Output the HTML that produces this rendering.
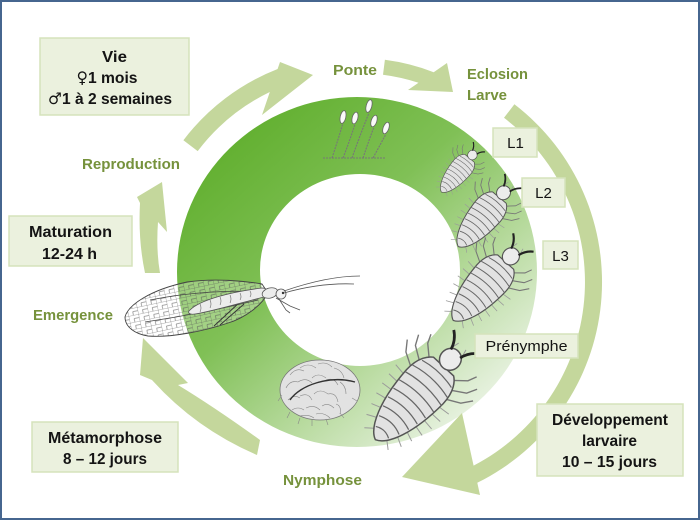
<!DOCTYPE html>
<html><head><meta charset="utf-8"><style>
html,body{margin:0;padding:0;background:#fff;}
svg{display:block;}
</style></head><body>
<svg width="700" height="520" viewBox="0 0 700 520" xmlns="http://www.w3.org/2000/svg">
<defs>
<linearGradient id="rg" x1="0.12" y1="0.08" x2="0.88" y2="0.92">
<stop offset="0" stop-color="#5fae2c"/>
<stop offset="0.4" stop-color="#80c056"/>
<stop offset="0.7" stop-color="#b9dba0"/>
<stop offset="1" stop-color="#f0f6ec"/>
</linearGradient>
<pattern id="mesh" width="10" height="7" patternUnits="userSpaceOnUse" patternTransform="rotate(-12)">
<path d="M0,0H10M0,0V7M5,3.5H10M5,3.5V7" stroke="#555" stroke-width="0.5" fill="none"/>
</pattern>
<clipPath id="wingclip"><path d="M125,317 C128,305 150,290 187,282 C215,278 245,281 262,284 L268,293 C262,305 245,318 228,323 C205,331 170,338 148,336 C135,334 125,327 125,317 Z"/></clipPath>
<g id="larva" fill="none">
  <path d="M12,-19 L18,-30 L26,-36 M20,-17 L27,-28 L35,-32 M27,-13 L35,-22 L42,-25 M12,19 L18,30 L26,36 M20,17 L27,28 L35,32 M27,13 L35,22 L42,25" stroke="#777" stroke-width="1.1"/>
  <path d="M-44,-7 L-49,-13 M-36,-11 L-40,-19 M-28,-14 L-31,-22 M-20,-16 L-22,-25 M-12,-18 L-13,-27 M-4,-19 L-4,-28 M4,-20 L5,-29 M-44,7 L-49,13 M-36,11 L-40,19 M-28,14 L-31,22 M-20,16 L-22,25 M-12,18 L-13,27 M-4,19 L-4,28 M4,20 L5,29 M44,-6 L52,-4 M44,6 L52,4" stroke="#9a9a9a" stroke-width="0.8"/>
  <path d="M-50,0 C-46,-10 -25,-19 8,-20 C22,-20 28,-14 30,-11 L30,11 C28,14 22,20 8,20 C-25,19 -46,10 -50,0 Z" fill="#e2e2e2" stroke="#555" stroke-width="1.2"/>
  <path d="M-42,-7 Q-38,0 -42,7 M-34,-11 Q-29,0 -34,11 M-26,-14 Q-21,0 -26,14 M-18,-16 Q-13,0 -18,16 M-10,-17.5 Q-5,0 -10,17.5 M-2,-19 Q3,0 -2,19 M6,-20 Q11,0 6,20 M14,-19 Q19,0 14,19 M22,-16 Q26,0 22,16" stroke="#666" stroke-width="1"/>
  <ellipse cx="38" cy="0" rx="9" ry="8.5" fill="#ececec" stroke="#555" stroke-width="1.2"/>
  <path d="M44,-5 Q52,-7 57,-14 M44,5 Q52,7 57,14" stroke="#222" stroke-width="2.2"/>
</g>
</defs>

<rect x="1" y="1" width="698" height="518" fill="#fff" stroke="#46668f" stroke-width="2"/>

<!-- ring -->
<path fill="url(#rg)" fill-rule="evenodd" d="M177,272 A180,175 0 1,0 537,272 A180,175 0 1,0 177,272 Z M260,270 A100,96 0 1,1 460,270 A100,96 0 1,1 260,270 Z"/>

<!-- arrows -->
<g fill="#c4d79c">
<path d="M183.4,140.2 A218,218 0 0,1 277.6,69 L280,62 L313,75 L262,115 L269.8,92 A200,200 0 0,0 197.7,151.1 Z"/>
<path d="M145,273 Q138,240 140,203 L137,197 L162,182 L167,232 L158,222 Q156,250 160,273 Z"/>
<path d="M384.9,59.8 A214,214 0 0,1 433.7,72.2 L447,63 L453,92 L408,90 L418.5,82.7 A199,199 0 0,0 383,74.7 Z"/>
<path d="M514.4,104.3 A224,224 0 0,1 477.3,482.8 L480,495 L402,477 L462,413 L473.6,465.6 A207,207 0 0,0 504,117.8 Z"/>
<path d="M257,455 Q195.5,428.5 152,380 L140,375 L143,338 L188,383 L178,385 Q215,407.5 260,440 Z"/>
</g>

<!-- eggs -->
<g fill="none" stroke="#777" stroke-width="1.1" stroke-dasharray="2,1">
<path d="M323,158 L386,158"/>
<path d="M332,158 Q338,140 343,123"/>
<path d="M343,158 Q350,140 355,124"/>
<path d="M352,158 Q360,135 369,113"/>
<path d="M363,158 Q369,140 374,127"/>
<path d="M373,158 Q380,145 386,134"/>
</g>
<g fill="#fafafa" stroke="#666" stroke-width="0.8">
<ellipse cx="343" cy="117" rx="2.8" ry="6.5" transform="rotate(12 343 117)"/>
<ellipse cx="355" cy="118" rx="2.8" ry="6" transform="rotate(15 355 118)"/>
<ellipse cx="369" cy="106" rx="2.8" ry="6.5" transform="rotate(15 369 106)"/>
<ellipse cx="374" cy="121" rx="2.8" ry="6" transform="rotate(18 374 121)"/>
<ellipse cx="386" cy="128" rx="2.8" ry="6" transform="rotate(20 386 128)"/>
</g>

<!-- larvae -->
<use href="#larva" transform="translate(459,171) rotate(-50) scale(0.55)"/>
<use href="#larva" transform="translate(484,216) rotate(-50) scale(0.8)"/>
<use href="#larva" transform="translate(486,284) rotate(-48) scale(0.98)"/>
<use href="#larva" transform="translate(418,394) rotate(-47) scale(1.25)"/>

<!-- cocoon -->
<g>
<ellipse cx="320" cy="390" rx="40" ry="30" fill="#e2e2e2" stroke="#777" stroke-width="0.8"/>
<g fill="none" stroke="#888" stroke-width="0.6">
<path d="M290,375 q6,-8 14,-4 M300,368 q8,-6 16,0 M318,364 q8,-3 14,3 M334,368 q8,2 10,10 M286,388 q4,-8 12,-6 M298,382 q8,-5 14,1 M312,378 q6,-6 14,0 M326,380 q8,-3 12,5 M340,382 q6,4 6,12 M288,400 q6,-6 12,-2 M300,396 q8,-4 12,4 M314,394 q6,-6 14,0 M328,394 q8,-2 10,8 M292,410 q6,-4 12,0 M306,408 q8,-4 14,2 M322,406 q6,-4 12,2 M336,404 q6,2 4,10 M300,416 q8,-2 14,2 M316,414 q8,-2 14,4"/>
<path d="M282,395 l-4,6 M290,412 l-3,6 M300,418 l-2,6 M312,420 l0,6 M326,419 l2,6 M340,413 l4,5 M352,398 l5,3"/>
</g>
<path d="M290,400 C300,385 330,375 355,382" fill="none" stroke="#333" stroke-width="1.4"/>
</g>

<!-- adult lacewing -->
<g>
<path d="M125,317 C128,305 150,290 187,282 C215,278 245,281 262,284 L268,293 C262,305 245,318 228,323 C205,331 170,338 148,336 C135,334 125,327 125,317 Z" fill="#ffffff" fill-opacity="0.3"/>
<rect x="120" y="270" width="160" height="75" fill="url(#mesh)" clip-path="url(#wingclip)"/>
<path d="M125,317 C128,305 150,290 187,282 C215,278 245,281 262,284 L268,293 C262,305 245,318 228,323 C205,331 170,338 148,336 C135,334 125,327 125,317 Z" fill="none" stroke="#444" stroke-width="0.9"/>
<path d="M150,300 C190,292 230,290 262,292 M145,322 C185,316 225,308 258,300" fill="none" stroke="#444" stroke-width="0.7"/>
<path d="M214,326 L240,302 M220,325 L244,304" stroke="#333" stroke-width="0.9"/>
<path d="M190,310 C200,300 230,292 262,288 C268,288 270,294 264,297 C240,303 210,312 195,314 C189,315 187,312 190,310 Z" fill="#ececec" stroke="#555" stroke-width="0.8"/>
<path d="M200,304 q2,4 0,8 M210,300 q2,4 0,8 M220,297 q2,4 0,8 M230,295 q2,4 0,8 M240,293 q2,4 0,7 M250,291 q2,3 0,6" fill="none" stroke="#666" stroke-width="0.6"/>
<ellipse cx="270" cy="293" rx="8" ry="5" transform="rotate(-15 270 293)" fill="#ececec" stroke="#555" stroke-width="0.8"/>
<circle cx="281" cy="294" r="5" fill="#f2f2f2" stroke="#555" stroke-width="0.8"/>
<circle cx="283" cy="293" r="1.2" fill="#333"/>
<path d="M284,291 C310,282 335,276 360,276 M284,293 C305,287 330,283 354,284" fill="none" stroke="#555" stroke-width="0.8"/>
<path d="M276,298 L290,306 L300,310 M279,299 L286,310 L290,313" fill="none" stroke="#555" stroke-width="0.8"/>
</g>

<!-- boxes -->
<g fill="#ebf1de" stroke="#d5e3bb" stroke-width="1.5">
<rect x="40" y="38" width="149" height="77"/>
<rect x="9" y="216" width="123" height="50"/>
<rect x="32" y="422" width="146" height="50"/>
<rect x="537" y="404" width="146" height="72"/>
<rect x="475" y="334" width="103" height="24"/>
<rect x="493" y="128" width="44" height="29"/>
<rect x="522" y="178" width="43" height="29"/>
<rect x="543" y="241" width="35" height="28"/>
</g>

<!-- box text -->
<g font-family="'Liberation Sans','DejaVu Sans',sans-serif" font-weight="bold" font-size="16" fill="#141414" text-anchor="middle">
<text x="114.5" y="62" textLength="25" lengthAdjust="spacingAndGlyphs">Vie</text>
<text x="107" y="83" textLength="61" lengthAdjust="spacingAndGlyphs"><tspan font-weight="normal" font-family="'DejaVu Sans',sans-serif">♀</tspan>1 mois</text>
<text x="110" y="104" textLength="124" lengthAdjust="spacingAndGlyphs"><tspan font-weight="normal" font-family="'DejaVu Sans',sans-serif">♂</tspan>1 à 2 semaines</text>
<text x="70.5" y="237" textLength="83" lengthAdjust="spacingAndGlyphs">Maturation</text>
<text x="69.5" y="259" textLength="55" lengthAdjust="spacingAndGlyphs">12-24 h</text>
<text x="105" y="443" textLength="114" lengthAdjust="spacingAndGlyphs">Métamorphose</text>
<text x="105" y="464" textLength="84" lengthAdjust="spacingAndGlyphs">8 – 12 jours</text>
<text x="610" y="425" textLength="116" lengthAdjust="spacingAndGlyphs">Développement</text>
<text x="609.5" y="446" textLength="55" lengthAdjust="spacingAndGlyphs">larvaire</text>
<text x="609.5" y="467" textLength="95" lengthAdjust="spacingAndGlyphs">10 – 15 jours</text>
</g>
<g font-family="'Liberation Sans','DejaVu Sans',sans-serif" font-size="15" fill="#141414" text-anchor="middle">
<text x="526.5" y="351" textLength="82" lengthAdjust="spacingAndGlyphs">Prénymphe</text>
<text x="515.5" y="148">L1</text>
<text x="543.5" y="198">L2</text>
<text x="560.5" y="261">L3</text>
</g>

<!-- green labels -->
<g font-family="'Liberation Sans','DejaVu Sans',sans-serif" font-weight="bold" font-size="15" fill="#76923c">
<text x="333" y="75" textLength="44" lengthAdjust="spacingAndGlyphs">Ponte</text>
<text x="467" y="79" textLength="61" lengthAdjust="spacingAndGlyphs">Eclosion</text>
<text x="467" y="100" textLength="40" lengthAdjust="spacingAndGlyphs">Larve</text>
<text x="82" y="169" textLength="98" lengthAdjust="spacingAndGlyphs">Reproduction</text>
<text x="33" y="320" textLength="80" lengthAdjust="spacingAndGlyphs">Emergence</text>
<text x="283" y="485" textLength="79" lengthAdjust="spacingAndGlyphs">Nymphose</text>
</g>
</svg>
</body></html>
